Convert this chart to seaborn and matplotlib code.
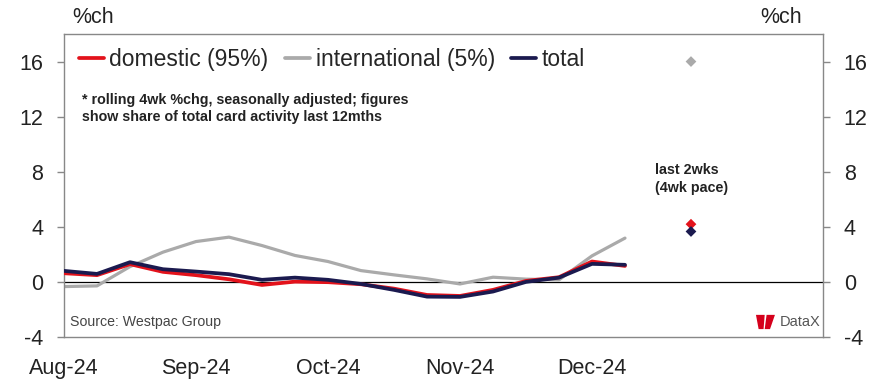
import numpy as np
import pandas as pd
import matplotlib
matplotlib.use("Agg")
import matplotlib.pyplot as plt
import seaborn as sns
from matplotlib.patches import Polygon

# weekly observations, x = week index (4 weeks per tick)
weeks = list(range(18))
domestic = [0.63, 0.49, 1.29, 0.73, 0.49, 0.19, -0.22, 0.02, -0.02, -0.17,
            -0.49, -0.95, -1.02, -0.58, 0.07, 0.34, 1.48, 1.16]
international = [-0.34, -0.29, 1.11, 2.16, 2.93, 3.25, 2.64, 1.92, 1.48, 0.82,
                 0.51, 0.22, -0.15, 0.34, 0.20, 0.15, 1.89, 3.18]
total = [0.80, 0.58, 1.43, 0.92, 0.75, 0.56, 0.15, 0.31, 0.15, -0.15,
         -0.58, -1.07, -1.09, -0.70, 0.00, 0.31, 1.31, 1.24]

# last 2wks (4wk pace) points
pace_week = 19
pace_domestic = 4.19
pace_international = 16.0
pace_total = 3.66

tick_weeks = [0, 4, 8, 12, 16, 20]
tick_labels = ["Aug-24", "Sep-24", "Oct-24", "Nov-24", "Dec-24", ""]
y_ticks = [-4, 0, 4, 8, 12, 16]

names = ["domestic (95%)", "international (5%)", "total"]
colors = {"domestic (95%)": "#E3121B", "international (5%)": "#AAAAAA", "total": "#1B1A4F"}

lines = pd.DataFrame({
    "week": weeks * 3,
    "value": domestic + international + total,
    "series": [names[0]] * 18 + [names[1]] * 18 + [names[2]] * 18,
})
pace = pd.DataFrame({
    "week": [pace_week] * 3,
    "value": [pace_international, pace_domestic, pace_total],
    "series": [names[1], names[0], names[2]],
})

sns.set_style("white")
plt.rcParams["font.family"] = ["Liberation Sans", "DejaVu Sans"]
plt.rcParams["axes.unicode_minus"] = False

fig = plt.figure(figsize=(8.9, 3.8), dpi=100)
ax = fig.add_axes([0.0719, 0.1132, 0.8528, 0.7973])

ax.axhline(0, color="black", lw=0.9, zorder=1)
sns.lineplot(data=lines[lines.series == names[1]], x="week", y="value", color=colors[names[1]],
             lw=2.3, ax=ax, zorder=2)
sns.lineplot(data=lines[lines.series == names[0]], x="week", y="value", color=colors[names[0]],
             lw=2.7, ax=ax, zorder=3)
sns.lineplot(data=lines[lines.series == names[2]], x="week", y="value", color=colors[names[2]],
             lw=2.7, ax=ax, zorder=4)
sns.scatterplot(data=pace, x="week", y="value", hue="series", palette=colors, marker="D",
                s=30, edgecolor="none", legend=False, ax=ax, zorder=5)

ax.set_xlim(0, 23)
ax.set_ylim(-4, 18)
ax.set_xticks(tick_weeks)
ax.set_xticklabels(tick_labels)
ax.set_yticks(y_ticks)
ax.set_xlabel("")
ax.set_ylabel("")

for s in ax.spines.values():
    s.set_color("#888888")
    s.set_linewidth(1.0)

ax.tick_params(axis="both", labelsize=15.5, colors="#888888", labelcolor="#222222",
               length=5, width=1, direction="out")
ax.tick_params(axis="x", pad=10)
ax.tick_params(axis="y", pad=10)

ax2 = ax.twinx()
ax2.set_ylim(ax.get_ylim())
ax2.set_yticks(y_ticks)
ax2.tick_params(axis="y", labelsize=15.5, colors="#888888", labelcolor="#222222",
                length=5, width=1, direction="out", pad=10)
for s in ax2.spines.values():
    s.set_visible(False)

fig.text(0.081, 0.955, "%ch", fontsize=15.5, color="#222222", va="center")
fig.text(0.854, 0.955, "%ch", fontsize=15.5, color="#222222", va="center")

handles = [plt.Line2D([], [], color=colors[n], lw=2.7) for n in names]
ax.legend(handles, names, loc="upper left", bbox_to_anchor=(-0.008, 1.022), ncol=3, frameon=False,
          fontsize=16.5, handlelength=1.1, handletextpad=0.25, columnspacing=0.7)

ax.text(0.024, 0.755, "* rolling 4wk %chg, seasonally adjusted; figures\nshow share of total card activity last 12mths",
        transform=ax.transAxes, fontsize=10.3, fontweight="bold", color="#222222",
        va="center", ha="left", linespacing=1.25)
ax.text(17.9, 7.5, "last 2wks\n(4wk pace)", fontsize=10.3, fontweight="bold",
        color="#222222", va="center", ha="left", linespacing=1.35)
ax.text(0.008, 0.051, "Source: Westpac Group", transform=ax.transAxes, fontsize=10.2,
        color="#444444", va="center", ha="left")

# DataX logo
ax.text(0.997, 0.05, "DataX", transform=ax.transAxes, fontsize=10.5, color="#555555",
        va="center", ha="right")
lx, ly, lw_, lh = 0.9117, 0.026, 0.025, 0.047
for shape in ([[0, 1], [0.46, 1], [0.4, 0], [0.14, 0]],
              [[0.56, 1], [1.0, 1], [0.74, 0], [0.46, 0]]):
    pts = [[lx + px * lw_, ly + py * lh] for px, py in shape]
    ax.add_patch(Polygon(pts, closed=True, transform=ax.transAxes, color="#D5001C", lw=0))

fig.savefig("out.png", dpi=100)
